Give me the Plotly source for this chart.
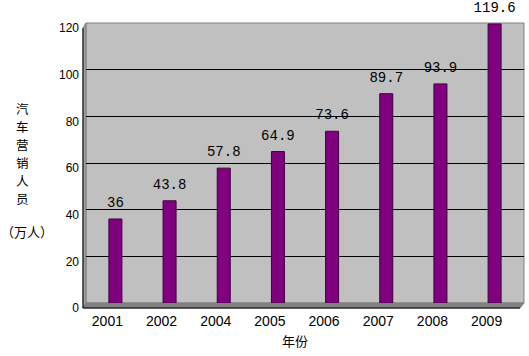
import plotly.graph_objects as go

years = ["2001", "2002", "2004", "2005", "2006", "2007", "2008", "2009"]
values = [36, 43.8, 57.8, 64.9, 73.6, 89.7, 93.9, 119.6]
labels = ["36", "43.8", "57.8", "64.9", "73.6", "89.7", "93.9", "119.6"]
y_title_chars = ["汽", "车", "营", "销", "人", "员"]
y_unit = "（万人）"
x_title = "年份"

W, H = 529, 356
L, R, T, B = 86, 5, 23, 53
pw, ph = W - L - R, H - T - B


def px(x):
    return (x - L) / pw


def py(y):
    return (H - B - y) / ph


fig = go.Figure()
fig.add_trace(go.Bar(
    x=years, y=values,
    marker=dict(color="#800080", line=dict(color="#3c003c", width=1)),
    width=0.24, hoverinfo="skip",
))
fig.add_trace(go.Scatter(
    x=years, y=values, text=labels, mode="markers+text", textposition="top center",
    textfont=dict(family="Liberation Mono, DejaVu Sans Mono", size=14, color="black"),
    marker=dict(size=12, opacity=0), cliponaxis=False, hoverinfo="skip",
))

shapes = [
    dict(type="rect", xref="paper", yref="paper", x0=0, x1=1, y0=0, y1=1,
         line=dict(color="#808080", width=1), layer="below"),
    dict(type="path", xref="paper", yref="paper",
         path=f"M {px(83)} {py(308)} L {px(520)} {py(308)} L {px(524)} {py(303)} L {px(86)} {py(303)} Z",
         fillcolor="#808080", line=dict(color="#808080", width=1), layer="below"),
    dict(type="line", xref="paper", yref="paper", x0=px(83), x1=px(520), y0=py(308), y1=py(308),
         line=dict(color="black", width=1)),
    dict(type="path", xref="paper", yref="paper",
         path=f"M {px(83)} {py(308)} L {px(83)} {py(28)} L {px(86)} {py(23)} L {px(86)} {py(303)} Z",
         fillcolor="#a0a0a0", line=dict(color="#808080", width=1), layer="below"),
    dict(type="line", xref="paper", yref="paper", x0=px(83), x1=px(83), y0=py(308), y1=py(28),
         line=dict(color="black", width=1)),
]

cjk = dict(family="Noto Sans CJK SC", size=13, color="black")
cjk_v = dict(family="Noto Sans CJK SC", size=12.5, color="black")
annotations = []
for i, ch in enumerate(y_title_chars):
    annotations.append(dict(text=ch, xref="paper", yref="paper", x=px(22), y=py(108 + 18 * i),
                            showarrow=False, xanchor="center", yanchor="middle", font=cjk_v))
annotations += [
    dict(text=y_unit, xref="paper", yref="paper", x=px(27), y=py(231),
         showarrow=False, xanchor="center", yanchor="middle", font=cjk),
    dict(text=x_title, xref="paper", yref="paper", x=px(295), y=py(340),
         showarrow=False, xanchor="center", yanchor="middle", font=cjk),
]

fig.update_layout(
    width=W, height=H,
    margin=dict(l=L, r=R, t=T, b=B, pad=0),
    paper_bgcolor="white", plot_bgcolor="#C0C0C0",
    showlegend=False, shapes=shapes, annotations=annotations,
    xaxis=dict(showgrid=False, showline=False, ticks="", ticklabelstandoff=8,
               ticklabelshift=-8,
               tickfont=dict(family="Liberation Sans, Arial", size=14, color="black")),
    yaxis=dict(range=[0, 120], dtick=20, showgrid=True, gridcolor="black", gridwidth=1,
               zeroline=False, showline=False, ticks="", ticklabelstandoff=6,
               ticklabelshift=5,
               tickfont=dict(family="Liberation Sans, Arial", size=12, color="black")),
)

fig.write_html("out.html", post_script="document.body.style.margin='0';",
               config={"displayModeBar": False})
